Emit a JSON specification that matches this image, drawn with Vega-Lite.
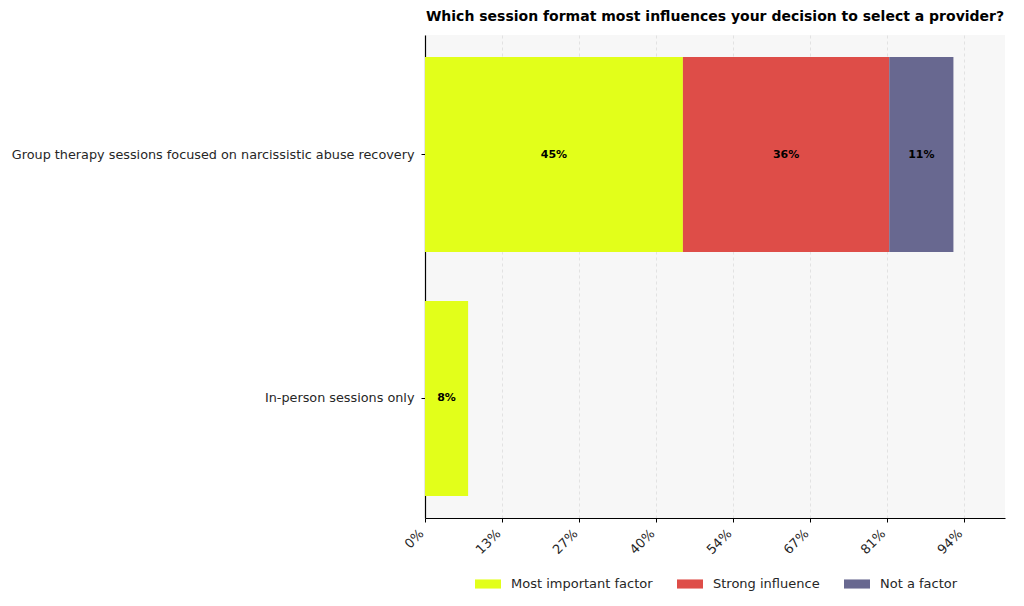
{
  "$schema": "https://vega.github.io/schema/vega-lite/v6.json",
  "width": 580,
  "height": 483,
  "autosize": {"type": "none"},
  "padding": {"left": 425, "top": 35, "right": 19, "bottom": 88},
  "background": "white",
  "title": {
    "text": "Which session format most influences your decision to select a provider?",
    "font": "DejaVu Sans",
    "fontSize": 14,
    "fontWeight": "bold",
    "color": "black",
    "anchor": "middle",
    "offset": 11
  },
  "data": {
    "values": [
      {"format": "Group therapy sessions focused on narcissistic abuse recovery", "response": "Most important factor", "share": 0.45, "rank": 1},
      {"format": "Group therapy sessions focused on narcissistic abuse recovery", "response": "Strong influence", "share": 0.36, "rank": 2},
      {"format": "Group therapy sessions focused on narcissistic abuse recovery", "response": "Not a factor", "share": 0.112, "rank": 3},
      {"format": "In-person sessions only", "response": "Most important factor", "share": 0.0752, "rank": 1}
    ]
  },
  "encoding": {
    "y": {
      "field": "format",
      "type": "nominal",
      "sort": ["Group therapy sessions focused on narcissistic abuse recovery", "In-person sessions only"],
      "scale": {"paddingInner": 0.2, "paddingOuter": 0.09},
      "axis": {
        "title": null,
        "labelFont": "DejaVu Sans",
        "labelFontSize": 12.8,
        "labelColor": "#262626",
        "labelLimit": 0,
        "tickColor": "black",
        "tickSize": 4,
        "labelPadding": 7,
        "domainColor": "black",
        "domainWidth": 1.2,
        "grid": false
      }
    },
    "order": {"field": "rank", "type": "quantitative", "sort": "ascending"}
  },
  "layer": [
    {
      "mark": {"type": "bar"},
      "encoding": {
        "x": {
          "field": "share",
          "type": "quantitative",
          "stack": "zero",
          "scale": {"domain": [0, 1.012], "nice": false, "zero": true},
          "axis": {
            "title": null,
            "values": [0, 0.13428, 0.26857, 0.40286, 0.53714, 0.67143, 0.80571, 0.94],
            "format": ".0%",
            "labelAngle": -45,
            "labelAlign": "right",
            "labelBaseline": "top",
            "labelFont": "DejaVu Sans",
            "labelFontSize": 13,
            "labelColor": "#262626",
            "labelPadding": 5,
            "labelOffset": -8,
            "tickColor": "black",
            "tickSize": 4,
            "domainColor": "black",
            "domainWidth": 1.2,
            "grid": true,
            "gridColor": "#dcdcdc",
            "gridDash": [3, 3],
            "gridWidth": 0.8
          }
        },
        "color": {
          "field": "response",
          "type": "nominal",
          "sort": ["Most important factor", "Strong influence", "Not a factor"],
          "scale": {
            "domain": ["Most important factor", "Strong influence", "Not a factor"],
            "range": ["#e2ff1a", "#de4d48", "#686890"]
          },
          "legend": {
            "title": null,
            "orient": "none",
            "legendX": 50,
            "legendY": 536,
            "padding": 0,
            "direction": "horizontal",
            "symbolType": "M-1,-0.35H1V0.35H-1Z",
            "symbolSize": 676,
            "symbolStrokeWidth": 0,
            "symbolOpacity": 1,
            "labelFont": "DejaVu Sans",
            "labelFontSize": 13,
            "labelColor": "#262626",
            "columnPadding": 24,
            "labelOffset": 10
          }
        }
      }
    },
    {
      "mark": {"type": "text", "font": "DejaVu Sans", "fontSize": 11, "fontWeight": "bold", "color": "black", "align": "center", "baseline": "middle"},
      "encoding": {
        "x": {"field": "share", "type": "quantitative", "stack": "zero", "bandPosition": 0.5},
        "detail": {"field": "response", "type": "nominal"},
        "text": {"field": "share", "type": "quantitative", "format": ".0%"}
      }
    }
  ],
  "config": {
    "view": {"fill": "#f7f7f7", "stroke": null}
  }
}
